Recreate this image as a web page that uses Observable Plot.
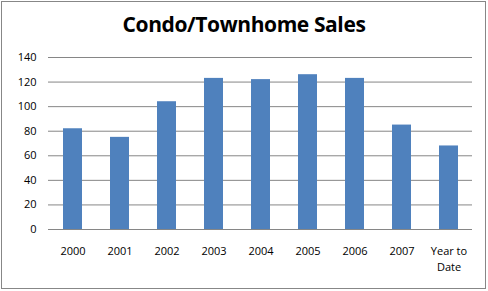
<!DOCTYPE html>
<html><head><meta charset="utf-8">
<script src="https://cdn.jsdelivr.net/npm/d3@7"></script>
<script src="https://cdn.jsdelivr.net/npm/@observablehq/plot@0.6"></script>
<style>
body{margin:0;background:#fff;}
#wrap{position:relative;width:488px;height:291px;overflow:hidden;background:#fff;}
#frame{position:absolute;left:1px;top:1px;width:483px;height:286px;border:1.5px solid #878787;box-sizing:content-box;pointer-events:none;}
#title{position:absolute;left:0;top:10px;width:488px;text-align:center;font-family:"Open Sans",sans-serif;font-weight:bold;font-size:21px;color:#000;letter-spacing:-0.4px;}
#chart{position:absolute;left:0;top:0;}
</style></head>
<body><div id="wrap"><div id="chart"></div><div id="frame"></div><div id="title">Condo/Townhome Sales</div></div>
<script>
const categories = ["2000","2001","2002","2003","2004","2005","2006","2007","Year to\nDate"];
const sales = [82, 75, 104, 123, 122, 126, 123, 85, 68];
const yTicks = [0,20,40,60,80,100,120,140];
const data = categories.map((c,i)=>({cat:c, value:sales[i]}));
const chart = Plot.plot({
  width:488, height:291,
  marginLeft:48, marginRight:16, marginTop:57, marginBottom:62,
  style:{fontFamily:"Open Sans, sans-serif", fontSize:"11px", color:"#000", background:"transparent"},
  x:{domain:categories, paddingInner:0.6, paddingOuter:0.3, label:null},
  y:{domain:[0,140], ticks:yTicks, label:null},
  marks:[
    Plot.gridY(yTicks,{stroke:"#868686", strokeOpacity:1, strokeWidth:1}),
    Plot.ruleX([0],{frameAnchor:"left", stroke:"#868686"}),
    Plot.barY(data,{x:"cat", y:"value", fill:"#4F81BD"}),
    Plot.ruleY([0],{stroke:"#868686"}),
    Plot.axisY({ticks:yTicks, tickSize:0, tickPadding:12, label:null}),
    Plot.axisX({tickSize:0, tickPadding:14, label:null, lineHeight:1.45})
  ]
});
document.getElementById("chart").appendChild(chart);
</script></body></html>
